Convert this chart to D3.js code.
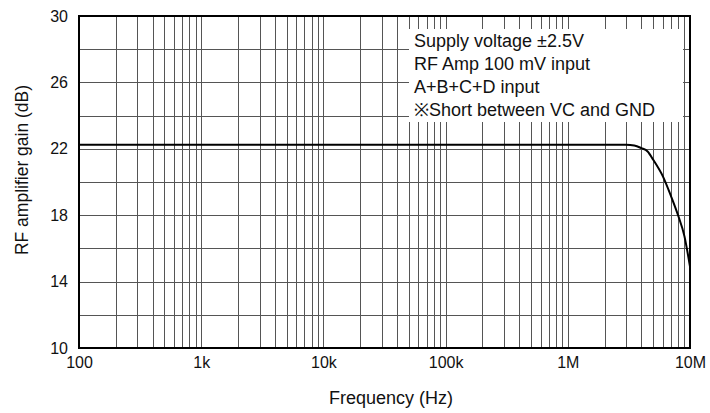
<!DOCTYPE html>
<html>
<head>
<meta charset="utf-8">
<script src="https://cdn.jsdelivr.net/npm/d3@7"></script>
<style>
body{margin:0;background:#fff;}
text{font-family:"Liberation Sans",Arial,Helvetica,sans-serif;fill:#111;}
</style>
</head>
<body>
<svg id="c" width="710" height="413"></svg>
<script>
const freqs = [100, 1000, 10000, 100000, 1000000, 2000000, 3000000, 3500000, 4000000, 4500000, 5000000, 6000000, 7000000, 8000000, 9000000, 10000000];
const gains = [22.24, 22.24, 22.24, 22.24, 22.24, 22.24, 22.24, 22.2, 22.04, 21.84, 21.34, 20.34, 19.14, 17.98, 16.74, 14.9];
const xTickValues = [100, 1000, 10000, 100000, 1000000, 10000000];
const xTickLabels = ["100", "1k", "10k", "100k", "1M", "10M"];
const yTickValues = [10, 14, 18, 22, 26, 30];
const noteLines = ["Supply voltage \u00B12.5V", "RF Amp 100 mV input", "A+B+C+D input", "\u203BShort between VC and GND"];

const svg = d3.select("#c");
const m = {l: 79, r: 690, t: 16, b: 348};
const x = d3.scaleLog().domain([100, 1e7]).range([m.l, m.r]);
const y = d3.scaleLinear().domain([10, 30]).range([m.b, m.t]);

// grid
const vGrid = [];
for (let d = 100; d < 1e7; d *= 10) for (let k = 1; k < 10; k++) vGrid.push(d * k);
const g = svg.append("g");
g.selectAll("line.v").data(vGrid.filter(v => v > 100)).join("line")
  .attr("x1", d => Math.round(x(d)) + 0.5).attr("x2", d => Math.round(x(d)) + 0.5)
  .attr("y1", m.t).attr("y2", m.b).attr("stroke", "#555").attr("stroke-width", 1);
g.selectAll("line.h").data(d3.range(12, 30, 2)).join("line")
  .attr("y1", d => Math.round(y(d)) + 0.5).attr("y2", d => Math.round(y(d)) + 0.5)
  .attr("x1", m.l).attr("x2", m.r).attr("stroke", "#555").attr("stroke-width", 1);

// note box
svg.append("rect").attr("x", 409).attr("y", 29).attr("width", 274).attr("height", 93).attr("fill", "#fff");
svg.append("g").selectAll("text").data(noteLines).join("text")
  .attr("x", 414).attr("y", (d, i) => 47 + i * 23)
  .attr("font-size", 18).text(d => d);

// curve
const line = d3.line().x((d, i) => x(freqs[i])).y(d => y(d)).curve(d3.curveMonotoneX);
svg.append("path").datum(gains).attr("d", line).attr("fill", "none").attr("stroke", "#000").attr("stroke-width", 2);

// frame
svg.append("rect").attr("x", m.l).attr("y", m.t).attr("width", m.r - m.l).attr("height", m.b - m.t)
  .attr("fill", "none").attr("stroke", "#000").attr("stroke-width", 2);

// axes
const xAxis = d3.axisBottom(x).tickValues(xTickValues).tickFormat((d, i) => xTickLabels[i]).tickSize(0).tickPadding(9);
const xa = svg.append("g").attr("transform", `translate(0,${m.b})`).call(xAxis);
xa.select(".domain").remove();
xa.selectAll("text").attr("font-size", 16).attr("fill", "#111").style("font-family", "'Liberation Sans',Arial,sans-serif");

const yAxis = d3.axisLeft(y).tickValues(yTickValues).tickSize(0).tickPadding(11);
const ya = svg.append("g").attr("transform", `translate(${m.l},0)`).call(yAxis);
ya.select(".domain").remove();
ya.selectAll("text").attr("font-size", 16).attr("fill", "#111").style("font-family", "'Liberation Sans',Arial,sans-serif");

svg.append("text").attr("x", 391).attr("y", 404).attr("text-anchor", "middle").attr("font-size", 18).text("Frequency (Hz)");
svg.append("text").attr("transform", "translate(28,170) rotate(-90)").attr("text-anchor", "middle").attr("font-size", 17.5).text("RF amplifier gain (dB)");
</script>
</body>
</html>
